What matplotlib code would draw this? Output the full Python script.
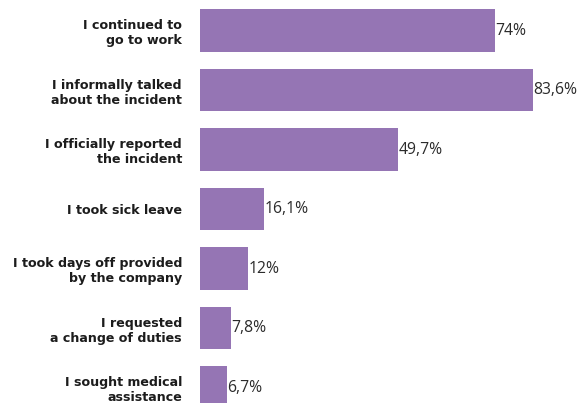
import matplotlib
matplotlib.use("Agg")
import matplotlib.pyplot as plt

# survey answers, top to bottom
answers = [
    "I continued to\ngo to work",
    "I informally talked\nabout the incident",
    "I officially reported\nthe incident",
    "I took sick leave",
    "I took days off provided\nby the company",
    "I requested\na change of duties",
    "I sought medical\nassistance",
]
shares = [74, 83.6, 49.7, 16.1, 12, 7.8, 6.7]
share_labels = ["74%", "83,6%", "49,7%", "16,1%", "12%", "7,8%", "6,7%"]

W, H = 581, 403
fig = plt.figure(figsize=(W / 100, H / 100), dpi=100)
ax = fig.add_axes([200 / W, 0, 1 - 200 / W, 1])

pos = list(range(len(answers)))
ax.barh(pos, shares, height=0.72, color="#9575b4")

for p, v, lab in zip(pos, shares, share_labels):
    ax.text(v + 0.1, p, lab, va="center", ha="left", fontsize=11.3,
            color="#2b2b2b", family="Open Sans")

ax.set_xlim(0, 95.7)
ax.set_ylim(6.26, -0.513)
ax.set_yticks(pos)
ax.set_yticklabels(answers, fontsize=9.1, fontweight="bold", color="#1c1c1c",
                   family="DejaVu Sans", linespacing=1.2)
ax.tick_params(axis="y", length=0, pad=13)
ax.set_xticks([])
for s in ax.spines.values():
    s.set_visible(False)

fig.savefig("out.png", dpi=100)
